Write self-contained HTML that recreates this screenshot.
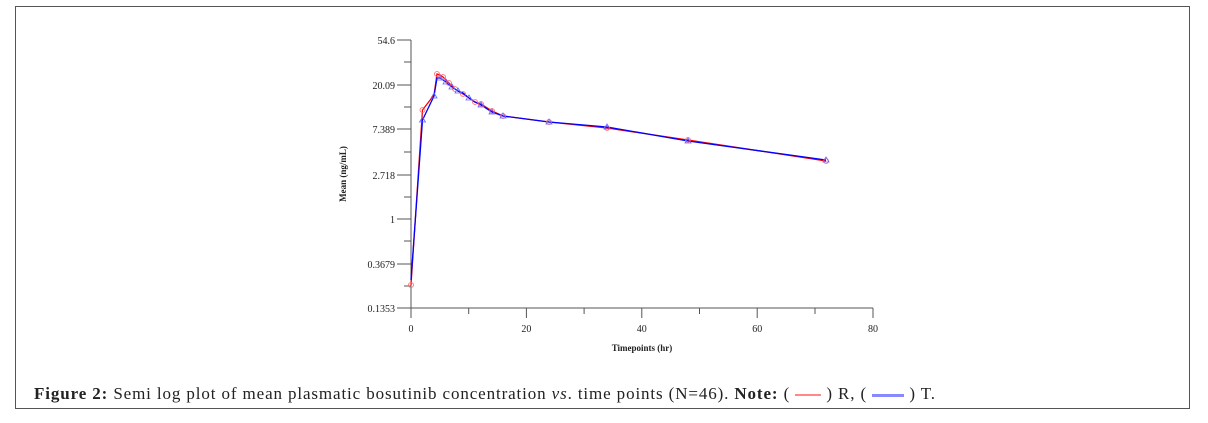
<!DOCTYPE html>
<html><head><style>
body{margin:0;width:1208px;height:423px;background:#fff;overflow:hidden;font-family:"Liberation Serif",serif;}
.frame{position:absolute;left:15px;top:6px;width:1175px;height:403px;border:1px solid #555;box-sizing:border-box;}
.cap{position:absolute;left:34px;top:384px;font-size:17px;letter-spacing:0.88px;color:#222;white-space:nowrap;}
</style></head><body>
<div class="frame"></div>
<svg width="1208" height="423" style="position:absolute;left:0;top:0" font-family="Liberation Serif, serif" font-size="10" fill="#222">
<g stroke="#555" stroke-width="1">
<line x1="411" y1="40" x2="411" y2="308"/>
<line x1="411" y1="308" x2="873" y2="308"/>
<line x1="397" y1="40" x2="411" y2="40"/><line x1="397" y1="85" x2="411" y2="85"/><line x1="397" y1="129" x2="411" y2="129"/><line x1="397" y1="175" x2="411" y2="175"/><line x1="397" y1="219" x2="411" y2="219"/><line x1="397" y1="264" x2="411" y2="264"/><line x1="397" y1="308" x2="411" y2="308"/>
<line x1="404" y1="62" x2="411" y2="62"/><line x1="404" y1="107" x2="411" y2="107"/><line x1="404" y1="152" x2="411" y2="152"/><line x1="404" y1="197" x2="411" y2="197"/><line x1="404" y1="241" x2="411" y2="241"/><line x1="404" y1="286" x2="411" y2="286"/>
<line x1="411" y1="308" x2="411" y2="318"/><line x1="468.7" y1="308" x2="468.7" y2="314"/><line x1="526.4" y1="308" x2="526.4" y2="318"/><line x1="584.1" y1="308" x2="584.1" y2="314"/><line x1="641.8" y1="308" x2="641.8" y2="318"/><line x1="699.5" y1="308" x2="699.5" y2="314"/><line x1="757.2" y1="308" x2="757.2" y2="318"/><line x1="815" y1="308" x2="815" y2="314"/><line x1="873" y1="308" x2="873" y2="318"/>
</g>
<g text-anchor="end"><text x="395" y="44">54.6</text><text x="395" y="89">20.09</text><text x="395" y="133">7.389</text><text x="395" y="179">2.718</text><text x="395" y="223">1</text><text x="395" y="268">0.3679</text><text x="395" y="312">0.1353</text></g>
<g text-anchor="middle"><text x="411" y="332">0</text><text x="526.4" y="332">20</text><text x="641.8" y="332">40</text><text x="757.2" y="332">60</text><text x="873" y="332">80</text>
<text x="642" y="351" font-size="9" font-weight="bold">Timepoints (hr)</text>
<text transform="translate(346,174) rotate(-90)" font-size="9" font-weight="bold">Mean (ng/mL)</text></g>
<polyline fill="none" stroke="#f00" stroke-width="1.3" points="411,285 422.5,110 434,95 437,74 440,75 443,77 446,80 449,83 452,86 455,89 458,91 463,94 469,98 475,102 481,104 492,111 503,116 549,122 607,128 688,140 826,161"/>
<polyline fill="none" stroke="#00f" stroke-width="1.3" points="411,280 422.5,120 434,96 437,78 440,78 443,80 446,82 449,85 452,87 455,89 458,91 463,93 469,98 475,102 481,105 492,112 503,116 549,122 607,127 688,141 826,160"/>
<g fill="none" stroke="#f66" stroke-width="0.8"><circle cx="411" cy="285" r="2.5"/><circle cx="422.5" cy="110" r="2.5"/><circle cx="437" cy="74" r="2.5"/><circle cx="443" cy="77" r="2.5"/><circle cx="449" cy="83" r="2.5"/><circle cx="455" cy="89" r="2.5"/><circle cx="463" cy="94" r="2.5"/><circle cx="475" cy="102" r="2.5"/><circle cx="481" cy="104" r="2.5"/><circle cx="492" cy="111" r="2.5"/><circle cx="503" cy="116" r="2.5"/><circle cx="549" cy="122" r="2.5"/><circle cx="607" cy="128" r="2.5"/><circle cx="688" cy="140" r="2.5"/><circle cx="826" cy="161" r="2.5"/></g>
<g fill="none" stroke="#66f" stroke-width="0.8"><path d="M422.5,117l3,5h-6z M434,93l3,5h-6z M440,75l3,5h-6z M446,79l3,5h-6z M452,84l3,5h-6z M458,88l3,5h-6z M469,95l3,5h-6z M481,102l3,5h-6z M492,109l3,5h-6z M503,113l3,5h-6z M549,119l3,5h-6z M607,124l3,5h-6z M688,138l3,5h-6z M826,157l3,5h-6z"/></g>
</svg>
<div class="cap"><b>Figure 2:</b> Semi log plot of mean plasmatic bosutinib concentration <i>vs</i>. time points (N=46). <b>Note:</b> ( <span style="display:inline-block;width:26px;height:2px;background:#f88;vertical-align:middle"></span> ) R, ( <span style="display:inline-block;width:32px;height:3px;background:#88f;vertical-align:middle"></span> ) T.</div>
</body></html>
